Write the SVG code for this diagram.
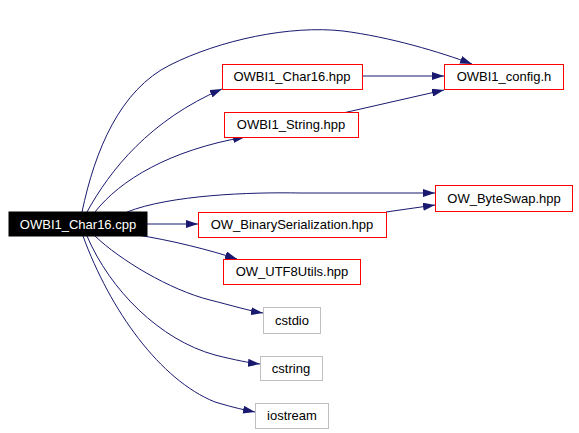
<svg xmlns="http://www.w3.org/2000/svg" width="579" height="433" viewBox="0 0 579 433">
<defs>
<marker id="arr" viewBox="0 0 12 8" refX="12" refY="4" markerWidth="12" markerHeight="8" markerUnits="userSpaceOnUse" orient="auto">
<path d="M0,0 L12,4 L0,8 z" fill="#191970"/>
</marker>
<style>
.e{fill:none;stroke:#191970;stroke-width:1;marker-end:url(#arr)}
.r{fill:#fff;stroke:#ff0000;stroke-width:1}
.g{fill:#fff;stroke:#bfbfbf;stroke-width:1}
text{font-family:"Liberation Sans",Arial,sans-serif;font-size:13px;fill:#000;text-anchor:middle}
</style>
</defs>
<rect width="579" height="433" fill="#fff"/>
<g id="edges">
<path class="e" d="M82,212 C95,150 120,90 170,65 C220,40 290,25 343,31 C390,37 440,52 472,64"/>
<path class="e" d="M87,212 C110,170 150,120 222,89"/>
<path class="e" d="M95,212 C120,180 170,150 245,137"/>
<path class="e" d="M127,212 C170,195 250,192 300,193 L435,193"/>
<path class="e" d="M147,224 L198,224"/>
<path class="e" d="M137,235 C170,240 210,250 237,259"/>
<path class="e" d="M95,236 C120,260 170,290 210,300 C230,305 250,311 263,313"/>
<path class="e" d="M87,236 C110,290 160,340 215,355 C235,360 250,363 260,364"/>
<path class="e" d="M83,236 C110,310 160,380 215,402 C235,408 245,410 255,412"/>
<path class="e" d="M362,76 L444,76"/>
<path class="e" d="M343,113 L444,90"/>
<path class="e" d="M386,212 L435,205"/>
</g>
<g id="main"><rect x="9" y="212" width="138" height="24" fill="#000" stroke="#000"/><text x="78" y="229" style="fill:#fff">OWBI1_Char16.cpp</text></g>
<g id="char16hpp"><rect class="r" x="222.5" y="64.5" width="140" height="25"/><text x="292" y="81">OWBI1_Char16.hpp</text></g>
<g id="config"><rect class="r" x="444.5" y="64.5" width="119" height="25"/><text x="504" y="81">OWBI1_config.h</text></g>
<g id="stringhpp"><rect class="r" x="224.5" y="112.5" width="134" height="25"/><text x="291" y="129">OWBI1_String.hpp</text></g>
<g id="byteswap"><rect class="r" x="435.5" y="185.5" width="137" height="26"/><text x="504" y="203">OW_ByteSwap.hpp</text></g>
<g id="binser"><rect class="r" x="198.5" y="212.5" width="188" height="25"/><text x="292" y="229">OW_BinarySerialization.hpp</text></g>
<g id="utf8"><rect class="r" x="223.5" y="259.5" width="137" height="25"/><text x="292" y="276">OW_UTF8Utils.hpp</text></g>
<g id="cstdio"><rect class="g" x="263.5" y="307.5" width="57" height="26"/><text x="292" y="325">cstdio</text></g>
<g id="cstring"><rect class="g" x="260.5" y="356.5" width="62" height="24"/><text x="291" y="373">cstring</text></g>
<g id="iostream"><rect class="g" x="255.5" y="403.5" width="73" height="25"/><text x="292" y="420">iostream</text></g>
</svg>
